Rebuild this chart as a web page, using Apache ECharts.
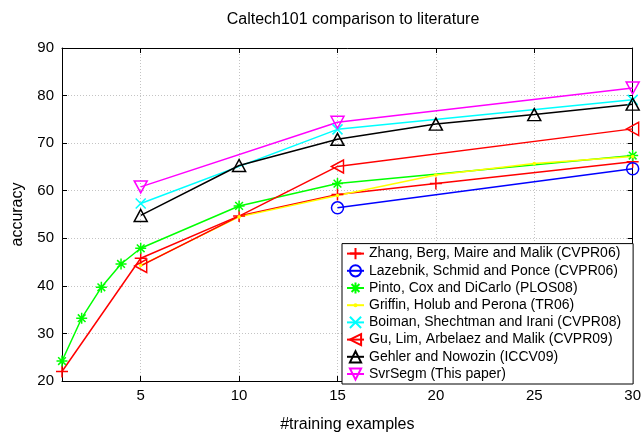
<!DOCTYPE html>
<html>
<head>
<meta charset="utf-8">
<script src="https://cdn.jsdelivr.net/npm/echarts@6/dist/echarts.min.js"></script>
<style>html,body{margin:0;padding:0;background:#fff}#c{width:644px;height:438px}</style>
</head>
<body>
<div id="c"></div>
<script>
// ---- data ----
var xTicks = [5, 10, 15, 20, 25, 30];
var yTicks = [20, 30, 40, 50, 60, 70, 80, 90];

var zhangX = [1, 5, 10, 15, 20, 30];
var zhangY = [22.0, 45.8, 54.7, 59.2, 61.5, 66.1];

var lazebnikX = [15, 30];
var lazebnikY = [56.4, 64.6];

var pintoX = [1, 2, 3, 4, 5, 10, 15, 30];
var pintoY = [24.2, 33.2, 39.7, 44.6, 47.9, 56.8, 61.5, 67.4];

var griffinX = [5, 10, 15, 20, 25, 30];
var griffinY = [44.3, 54.5, 59.0, 63.3, 65.7, 67.2];

var boimanX = [5, 15, 30];
var boimanY = [57.3, 72.9, 79.1];

var guX = [5, 15, 30];
var guY = [44.2, 65.1, 73.0];

var gehlerX = [5, 10, 15, 20, 25, 30];
var gehlerY = [54.8, 65.3, 70.8, 74.0, 76.0, 78.2];

var svrX = [5, 15, 30];
var svrY = [60.8, 74.4, 81.6];

var names = [
  'Zhang, Berg, Maire and Malik (CVPR06)',
  'Lazebnik, Schmid and Ponce (CVPR06)',
  'Pinto, Cox and DiCarlo (PLOS08)',
  'Griffin, Holub and Perona (TR06)',
  'Boiman, Shechtman and Irani (CVPR08)',
  'Gu, Lim, Arbelaez and Malik (CVPR09)',
  'Gehler and Nowozin (ICCV09)',
  'SvrSegm (This paper)'
];

// ---- build ----
function pairs(xs, ys) { return xs.map(function (x, i) { return [x, ys[i]]; }); }

var SYM = {
  plus: 'path://M0,5L10,5M5,0L5,10',
  circle: 'path://M0,5A5,5,0,1,0,10,5A5,5,0,1,0,0,5Z',
  star: 'path://M0,5L10,5M5,0L5,10M1.5,1.5L8.5,8.5M8.5,1.5L1.5,8.5',
  dot: 'path://M0,0L0.01,0M10,10L9.99,10M3.2,5A1.8,1.8,0,1,0,6.8,5A1.8,1.8,0,1,0,3.2,5Z',
  cross: 'path://M0,0L10,10M10,0L0,10',
  tleft: 'path://M0,5L10,0L10,10Z',
  tup: 'path://M5,0L10,9L0,9Z',
  tdown: 'path://M0,0L10,0L5,9Z'
};

function mk(name, xs, ys, color, sym, size, filled) {
  return {
    type: 'line',
    name: name,
    data: pairs(xs, ys),
    symbol: sym,
    symbolSize: size,
    symbolKeepAspect: false,
    showAllSymbol: true,
    lineStyle: { color: color, width: 1.5 },
    itemStyle: filled ? { color: color, borderWidth: 0 } :
      { color: 'rgba(0,0,0,0)', borderColor: color, borderWidth: 1.5 },
    emphasis: { disabled: true },
    animation: false
  };
}

var series = [
  mk(names[0], zhangX, zhangY, '#ff0000', SYM.plus, [12, 12]),
  mk(names[1], lazebnikX, lazebnikY, '#0000ff', SYM.circle, [12, 12]),
  mk(names[2], pintoX, pintoY, '#00ff00', SYM.star, [11, 11]),
  mk(names[3], griffinX, griffinY, '#ffff00', SYM.dot, [10, 10], true),
  mk(names[4], boimanX, boimanY, '#00ffff', SYM.cross, [10, 10]),
  mk(names[5], guX, guY, '#ff0000', SYM.tleft, [12, 13]),
  mk(names[6], gehlerX, gehlerY, '#000000', SYM.tup, [13, 12]),
  mk(names[7], svrX, svrY, '#ff00ff', SYM.tdown, [13, 12])
];

var font = 'Liberation Sans, Arial, Helvetica, sans-serif';
var gridLine = { show: true, lineStyle: { color: '#c4c4c4', type: [1, 2], width: 1 } };

var chart = echarts.init(document.getElementById('c'), null, { renderer: 'canvas' });
chart.setOption({
  animation: false,
  backgroundColor: '#ffffff',
  title: {
    text: 'Caltech101 comparison to literature',
    left: 348, top: 7, textAlign: 'center',
    textStyle: { fontFamily: font, fontSize: 16, fontWeight: 'normal', color: '#000' }
  },
  grid: { left: 62, right: 10, top: 48, bottom: 54, containLabel: false },
  xAxis: [{
    type: 'value', min: 1, max: 30, position: 'bottom',
    name: '#training examples', nameLocation: 'middle', nameGap: 36,
    nameTextStyle: { fontFamily: font, fontSize: 16, color: '#000' },
    axisLine: { show: true, onZero: false, lineStyle: { color: '#000', width: 1 } },
    axisTick: { show: true, inside: true, length: 5, customValues: xTicks, lineStyle: { color: '#000' } },
    axisLabel: { customValues: xTicks, fontFamily: font, fontSize: 15, color: '#000', margin: 7 },
    splitLine: gridLine
  }, {
    type: 'value', min: 1, max: 30, position: 'top',
    axisLine: { show: true, onZero: false, lineStyle: { color: '#000', width: 1 } },
    axisTick: { show: true, inside: true, length: 5, customValues: xTicks, lineStyle: { color: '#000' } },
    axisLabel: { show: false },
    splitLine: { show: false }
  }],
  yAxis: [{
    type: 'value', min: 20, max: 90, interval: 10, position: 'left',
    name: 'accuracy', nameLocation: 'middle', nameGap: 36,
    nameTextStyle: { fontFamily: font, fontSize: 16, color: '#000' },
    axisLine: { show: true, onZero: false, lineStyle: { color: '#000', width: 1 } },
    axisTick: { show: true, inside: true, length: 5, lineStyle: { color: '#000' } },
    axisLabel: { fontFamily: font, fontSize: 15, color: '#000', margin: 8,
      formatter: function (v) { return yTicks.indexOf(v) >= 0 ? String(v) : ''; } },
    splitLine: gridLine
  }, {
    type: 'value', min: 20, max: 90, interval: 10, position: 'right',
    axisLine: { show: true, onZero: false, lineStyle: { color: '#000', width: 1 } },
    axisTick: { show: true, inside: true, length: 5, lineStyle: { color: '#000' } },
    axisLabel: { show: false },
    splitLine: { show: false }
  }],
  legend: {
    orient: 'vertical',
    left: 342, bottom: 54,
    backgroundColor: '#ffffff',
    borderColor: '#000000', borderWidth: 1,
    padding: [3, 12, 3, 4],
    itemWidth: 17, itemHeight: 14, itemGap: 3.2,
    textStyle: { fontFamily: font, fontSize: 14, color: '#000' },
    data: names
  },
  series: series
});
</script>
</body>
</html>
